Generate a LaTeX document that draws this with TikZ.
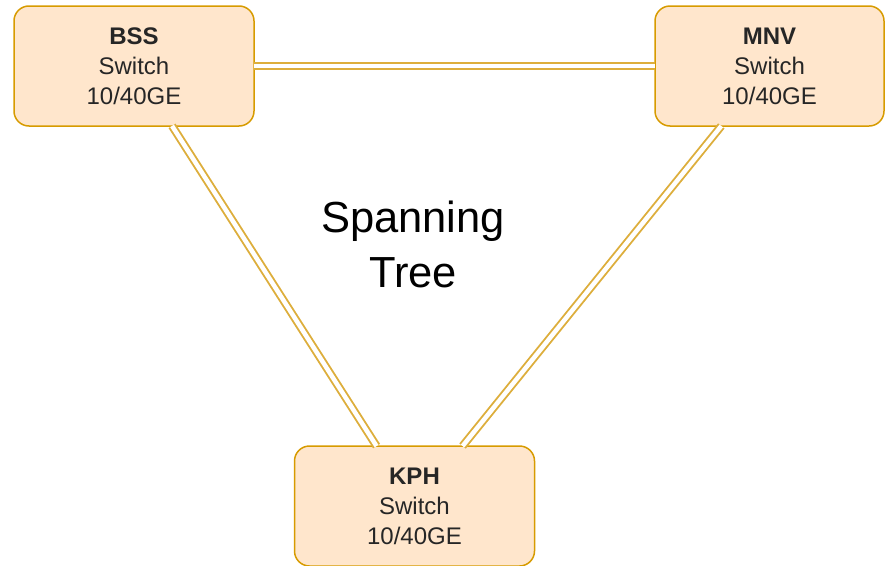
\documentclass[tikz,border=0pt]{standalone}
\usepackage{fontspec}
\setmainfont{Liberation Sans}
\definecolor{boxfill}{HTML}{FFE6CC}
\definecolor{boxdraw}{HTML}{D79B00}
\definecolor{linkcol}{HTML}{DDAE3C}
\begin{document}
\begin{tikzpicture}[x=1pt,y=-1pt,
  switchbox/.style={draw=boxdraw, fill=boxfill, line width=1.5pt, rounded corners=15pt,
    minimum width=240pt, minimum height=120pt, align=center, inner sep=0pt,
    font=\fontsize{24}{30}\selectfont, text=black!85},
  link/.style={draw=linkcol, line width=1.9pt, double=white, double distance=4.5pt,
    shorten <=-1pt, shorten >=-1pt}]
\useasboundingbox (0,0) rectangle (885,565);
\node[switchbox] (bss) at (134,66) {\textbf{BSS}\\Switch\\10/40GE};
\node[switchbox, minimum width=229pt] (mnv) at (769.5,66) {\textbf{MNV}\\Switch\\10/40GE};
\node[switchbox] (kph) at (414.5,506) {\textbf{KPH}\\Switch\\10/40GE};
\draw[link] (bss) -- (mnv);
\draw[link] (bss) -- (kph);
\draw[link] (mnv) -- (kph);
\node[align=center, font=\fontsize{43.5}{55}\selectfont] (title) at (413,244) {Spanning\\Tree};
\end{tikzpicture}
\end{document}
